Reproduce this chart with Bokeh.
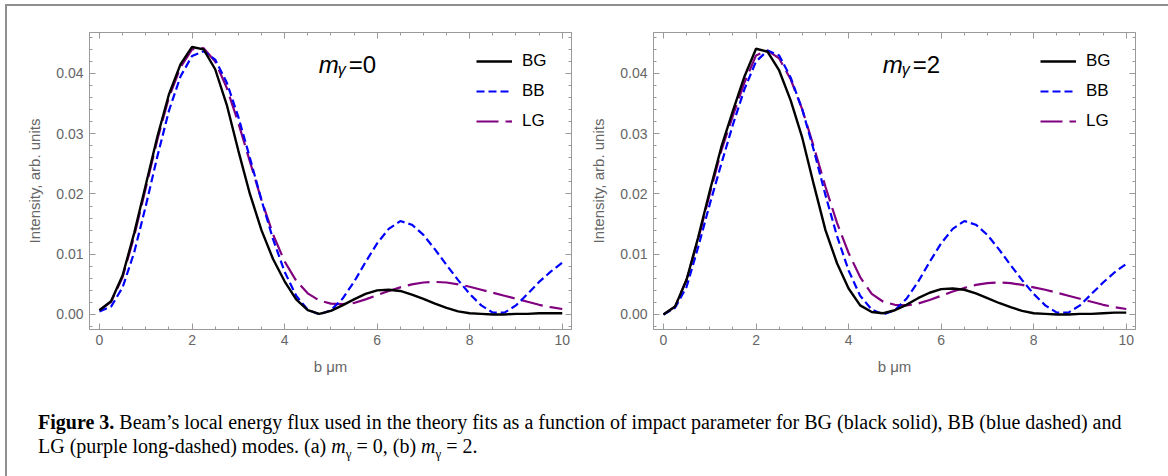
from bokeh.plotting import figure
from bokeh.models import (Range1d, FixedTicker, LinearAxis, Legend, LegendItem,
                          Label, Div, PrintfTickFormatter)
from bokeh.layouts import row, column
from bokeh.embed import file_html
from bokeh.resources import INLINE

# ---------------- data ----------------
b = [i * 0.25 for i in range(41)]

bg_m0 = [0.0007, 0.0022, 0.0065, 0.0135, 0.0215, 0.0295, 0.0365, 0.0415, 0.0444, 0.0440,
         0.0407, 0.0348, 0.0272, 0.0200, 0.0140, 0.0092, 0.0055, 0.0025, 0.0007, 0.0001,
         0.0006, 0.0015, 0.0025, 0.0034, 0.0040, 0.0041, 0.0039, 0.0033, 0.0026, 0.0018,
         0.0011, 0.0005, 0.0002, 0.0001, 0.0000, 0.0000, 0.0001, 0.0001, 0.0002, 0.0002,
         0.0002]
bb_m0 = [0.0005, 0.0013, 0.0045, 0.0103, 0.0180, 0.0262, 0.0338, 0.0395, 0.0429, 0.0437,
         0.0423, 0.0385, 0.0328, 0.0260, 0.0190, 0.0125, 0.0071, 0.0031, 0.0008, 0.0000,
         0.0007, 0.0026, 0.0054, 0.0087, 0.0118, 0.0142, 0.0155, 0.0149, 0.0132, 0.0108,
         0.0082, 0.0057, 0.0034, 0.0015, 0.0003, 0.0003, 0.0015, 0.0034, 0.0054, 0.0071,
         0.0086]
lg_m0 = [0.0007, 0.0021, 0.0062, 0.0130, 0.0210, 0.0290, 0.0360, 0.0410, 0.0440, 0.0442,
         0.0420, 0.0376, 0.0318, 0.0254, 0.0190, 0.0133, 0.0088, 0.0056, 0.0035, 0.0023,
         0.0018, 0.0017, 0.0019, 0.0025, 0.0032, 0.0039, 0.0045, 0.0050, 0.0053, 0.0054,
         0.0053, 0.0050, 0.0046, 0.0041, 0.0036, 0.0031, 0.0026, 0.0021, 0.0016, 0.0012,
         0.0009]

bg_m2 = [0.0000, 0.0013, 0.0058, 0.0128, 0.0205, 0.0278, 0.0338, 0.0395, 0.0441, 0.0436,
         0.0405, 0.0355, 0.0293, 0.0215, 0.0140, 0.0085, 0.0043, 0.0015, 0.0004, 0.0002,
         0.0007, 0.0016, 0.0027, 0.0036, 0.0042, 0.0043, 0.0041, 0.0035, 0.0027, 0.0019,
         0.0012, 0.0006, 0.0002, 0.0001, 0.0000, 0.0000, 0.0001, 0.0001, 0.0002, 0.0003,
         0.0003]
bb_m2 = [0.0000, 0.0011, 0.0046, 0.0112, 0.0183, 0.0250, 0.0315, 0.0374, 0.0420, 0.0438,
         0.0430, 0.0393, 0.0340, 0.0272, 0.0198, 0.0130, 0.0073, 0.0031, 0.0008, 0.0000,
         0.0007, 0.0026, 0.0054, 0.0087, 0.0118, 0.0142, 0.0155, 0.0149, 0.0132, 0.0108,
         0.0082, 0.0057, 0.0034, 0.0015, 0.0003, 0.0003, 0.0015, 0.0034, 0.0053, 0.0070,
         0.0084]
lg_m2 = [0.0000, 0.0013, 0.0058, 0.0125, 0.0200, 0.0272, 0.0330, 0.0385, 0.0430, 0.0438,
         0.0425, 0.0390, 0.0340, 0.0278, 0.0212, 0.0152, 0.0102, 0.0062, 0.0034, 0.0021,
         0.0016, 0.0015, 0.0018, 0.0024, 0.0031, 0.0038, 0.0044, 0.0049, 0.0052, 0.0053,
         0.0052, 0.0049, 0.0045, 0.0041, 0.0036, 0.0031, 0.0026, 0.0021, 0.0016, 0.0012,
         0.0009]

series_names = ["BG", "BB", "LG"]
panel_labels = ["0", "2"]
x_major = [0, 2, 4, 6, 8, 10]
x_minor = [i * 0.5 for i in range(21)]
y_major = [0.00, 0.01, 0.02, 0.03, 0.04]
y_minor = [i * 0.002 for i in range(-1, 24)]

FRAME = "#9a9a9a"
TICKTXT = "#666666"
FONT = "Liberation Sans"


def style_axis(ax, show_labels=True):
    ax.axis_line_color = FRAME
    ax.major_tick_line_color = FRAME
    ax.minor_tick_line_color = FRAME
    ax.major_tick_in = 6
    ax.major_tick_out = 0
    ax.minor_tick_in = 3
    ax.minor_tick_out = 0
    ax.major_label_text_font = FONT
    ax.axis_label_text_font = FONT
    ax.axis_label_text_color = TICKTXT
    ax.axis_label_text_font_style = "normal"
    ax.axis_label_text_font_size = "15px"
    if show_labels:
        ax.major_label_text_font_size = "14px"
        ax.major_label_text_color = TICKTXT
    else:
        ax.major_label_text_font_size = "0px"
        ax.major_label_text_color = None
        ax.major_label_standoff = 0
        ax.axis_label = None


def make_panel(bg, bb, lg, mval, border_left, border_right):
    p = figure(frame_width=482, frame_height=297,
               x_range=Range1d(-0.216, 10.2), y_range=Range1d(-0.0025, 0.0468),
               output_backend="svg", toolbar_location=None,
               min_border_left=border_left, min_border_right=border_right,
               min_border_top=26, min_border_bottom=61)
    p.grid.visible = False
    p.outline_line_color = FRAME
    p.background_fill_color = "white"
    p.border_fill_color = "white"

    xt = FixedTicker(ticks=x_major, minor_ticks=x_minor)
    yt = FixedTicker(ticks=y_major, minor_ticks=y_minor)
    p.xaxis.ticker = xt
    p.yaxis.ticker = yt
    p.yaxis.formatter = PrintfTickFormatter(format="%.2f")
    p.xaxis.axis_label = "b μm"
    p.yaxis.axis_label = "Intensity, arb. units"
    for ax in p.xaxis:
        style_axis(ax)
        ax.major_label_standoff = 5
        ax.axis_label_standoff = 10
    for ax in p.yaxis:
        style_axis(ax)
        ax.major_label_standoff = 6
        ax.axis_label_standoff = 10

    top = LinearAxis(ticker=xt)
    style_axis(top, show_labels=False)
    p.add_layout(top, "above")
    right = LinearAxis(ticker=yt)
    style_axis(right, show_labels=False)
    p.add_layout(right, "right")

    r_lg = p.line(b, lg, line_color="#800080", line_width=2.2, line_dash="22 7")
    r_bb = p.line(b, bb, line_color="#0000ff", line_width=2.2, line_dash="8 4")
    r_bg = p.line(b, bg, line_color="black", line_width=2.4)

    legend = Legend(items=[LegendItem(label=series_names[0], renderers=[r_bg]),
                           LegendItem(label=series_names[1], renderers=[r_bb]),
                           LegendItem(label=series_names[2], renderers=[r_lg])],
                    location="top_right", border_line_color=None,
                    background_fill_alpha=0, label_text_font=FONT,
                    label_text_font_size="17px", label_text_color="black",
                    glyph_width=36, glyph_height=20, label_height=20,
                    label_width=30, spacing=10, padding=5, margin=19,
                    label_standoff=10)
    p.add_layout(legend)

    lx, ly = 4.74, 0.0415
    p.add_layout(Label(x=lx, y=ly, text="m", text_font=FONT, text_font_style="italic",
                       text_font_size="24px", text_color="black",
                       text_baseline="alphabetic"))
    p.add_layout(Label(x=lx, y=ly, x_offset=19, y_offset=-5, text="γ", text_font=FONT,
                       text_font_style="italic", text_font_size="16px",
                       text_color="black", text_baseline="alphabetic"))
    p.add_layout(Label(x=lx, y=ly, x_offset=30, text="=" + mval, text_font=FONT,
                       text_font_size="24px", text_color="black",
                       text_baseline="alphabetic"))
    return p


p1 = make_panel(bg_m0, bb_m0, lg_m0, panel_labels[0], 82, 9)
p2 = make_panel(bg_m2, bb_m2, lg_m2, panel_labels[1], 73, 25)

caption = ('<div style="padding:15px 0 0 26px; font-family:\'Liberation Serif\', serif; '
           'font-size:20px; line-height:24px; white-space:nowrap; color:#000;">'
           '<b>Figure 3.</b> Beam’s local energy flux used in the theory fits as a function '
           'of impact parameter for BG (black solid), BB (blue dashed) and<br>'
           'LG (purple long-dashed) modes. (a) <i>m</i><sub style="font-size:13px">γ</sub> = 0, '
           '(b) <i>m</i><sub style="font-size:13px">γ</sub> = 2.</div>')
div = Div(text=caption, width=1153, height=78)

layout = column(row(p1, p2), div,
                styles={"margin-left": "5px", "margin-top": "4px",
                        "border-left": "2px solid #8f8f8f",
                        "border-top": "2px solid #8f8f8f",
                        "border-right": "2px solid #8f8f8f",
                        "background": "white"})

open("out.html", "w").write(file_html(layout, INLINE))
